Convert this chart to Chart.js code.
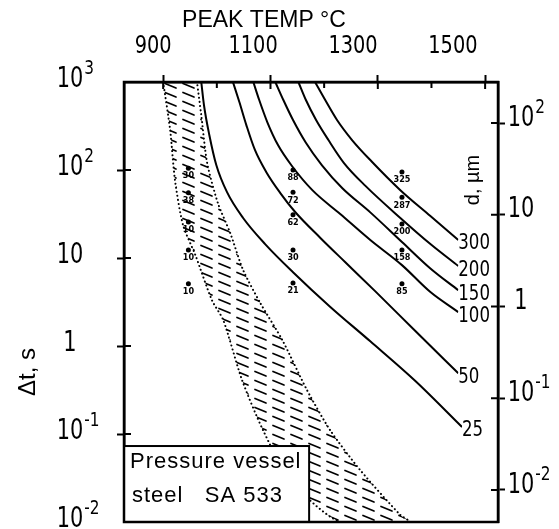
<!DOCTYPE html>
<html><head><meta charset="utf-8">
<script src="https://cdn.jsdelivr.net/npm/chart.js@4.4.1/dist/chart.umd.min.js"></script>
<style>html,body{margin:0;padding:0;background:#fff;overflow:hidden;}</style>
</head><body>
<canvas id="c" width="559" height="529"></canvas>
<script>
// ---- axis ticks ----
const tempTicks = [900, 1100, 1300, 1500];
const tempMinorTicks = [1000, 1200, 1400];
const timeTicks = [0.01, 0.1, 1, 10, 100, 1000];
const timeTickLabels = ['10^-2', '10^-1', '1', '10', '10^2', '10^3'];
const sizeTicks = [0.01, 0.1, 1, 10, 100];
const sizeTickLabels = ['10^-2', '10^-1', '1', '10', '10^2'];

// ---- constant grain-size curves (peak temp °C, hold time s) ----
const curveLabels = ['25', '50', '100', '150', '200', '300'];
const curve25Temp = [971, 976, 986, 999, 1019, 1049, 1090, 1142, 1211, 1286, 1370, 1457];
const curve25Time = [1000, 548, 250, 114, 56, 28.5, 14.4, 6.9, 2.8, 1.13, 0.40, 0.12];
const curve50Temp = [1030, 1042, 1055, 1071, 1092, 1118, 1146, 1193, 1239, 1295, 1370, 1450];
const curve50Time = [1000, 592, 324, 169, 95, 55, 33.3, 16.9, 9.0, 4.2, 1.48, 0.49];
const curve100Temp = [1068, 1079, 1094, 1114, 1140, 1178, 1230, 1286, 1345, 1398, 1450];
const curve100Time = [1000, 624, 351, 192, 111, 59, 31.6, 16, 8.3, 4.1, 2.43];
const curve150Temp = [1109, 1124, 1142, 1166, 1196, 1234, 1286, 1345, 1398, 1450];
const curve150Time = [1000, 624, 370, 204, 113, 62, 33, 15.2, 7.6, 4.3];
const curve200Temp = [1152, 1166, 1185, 1208, 1237, 1277, 1342, 1398, 1450];
const curve200Time = [1000, 624, 370, 219, 120, 66, 28.5, 14.4, 8.1];
const curve300Temp = [1183, 1202, 1224, 1252, 1289, 1342, 1398, 1450];
const curve300Time = [1000, 624, 370, 219, 124, 59, 30, 16];

// ---- hatched band boundaries ----
const bandLeftTemp = [900, 913, 922, 937, 960, 991, 1012, 1047, 1086, 1137, 1230];
const bandLeftTime = [1000, 285, 77, 23.7, 10.8, 3.3, 1.97, 0.41, 0.111, 0.030, 0.01];
const bandRightTemp = [963, 971, 982, 1002, 1025, 1049, 1081, 1122, 1168, 1211, 1267, 1342, 1360];
const bandRightTime = [1000, 422, 120, 42, 19.2, 7.3, 3.08, 1.17, 0.316, 0.111, 0.039, 0.012, 0.01];

// ---- measured samples ----
const sampleTemps = [947, 1142, 1345];
const samplesA_Time = [105, 55, 25.6, 12.3, 5.1];
const samplesA_Label = ['30', '38', '10', '10', '10'];
const samplesB_Time = [100, 56, 31, 12.3, 5.2];
const samplesB_Label = ['88', '72', '62', '30', '21'];
const samplesC_Time = [95, 49, 24.3, 12.3, 5.1];
const samplesC_Label = ['325', '287', '200', '158', '85'];

const legendLines = ['Pressure vessel', 'steel   SA 533'];
const legendBoxTemp = 1172;   // right edge of note box
const legendBoxTime = 0.073;  // top edge of note box

const NARROW = "'DejaVu Sans Condensed', 'Liberation Sans', sans-serif";
const SANS = "'Liberation Sans', Arial, sans-serif";

const pts = (xs, ys) => xs.map((v, i) => ({x: v, y: ys[i]}));

const canvas = document.getElementById('c');
const ctx0 = canvas.getContext('2d');
const tile = document.createElement('canvas');
tile.width = 18; tile.height = 9;
const tg = tile.getContext('2d');
tg.strokeStyle = '#000'; tg.lineWidth = 1.7; tg.lineCap = 'round';
tg.beginPath(); tg.moveTo(3, 2.5); tg.lineTo(14, 7); tg.stroke();
const hatch = ctx0.createPattern(tile, 'repeat');

const curves = [
  [curve25Temp, curve25Time], [curve50Temp, curve50Time], [curve100Temp, curve100Time],
  [curve150Temp, curve150Time], [curve200Temp, curve200Time], [curve300Temp, curve300Time]
];

const datasets = [];
datasets.push({
  label: 'band',
  data: pts(bandLeftTemp.concat(bandRightTemp.slice().reverse()),
            bandLeftTime.concat(bandRightTime.slice().reverse())),
  showLine: true, pointRadius: 0, borderColor: '#000', borderWidth: 2,
  borderDash: [0.1, 4], borderCapStyle: 'round', tension: 0.25,
  fill: 'shape', backgroundColor: hatch, order: 10
});
curves.forEach((c, i) => datasets.push({
  label: curveLabels[i], data: pts(c[0], c[1]), showLine: true, pointRadius: 0,
  borderColor: '#000', borderWidth: 2, cubicInterpolationMode: 'monotone', fill: false, order: 2
}));
const sampleSets = [[samplesA_Time, samplesA_Label], [samplesB_Time, samplesB_Label], [samplesC_Time, samplesC_Label]];
sampleSets.forEach((s, i) => datasets.push({
  label: 'samples' + i, data: s[0].map(t => ({x: sampleTemps[i], y: t})),
  showLine: false, pointRadius: 2.5, pointBackgroundColor: '#000', pointBorderWidth: 0, order: 1
}));

const zeroPad = s => { s.paddingTop = 0; s.paddingBottom = 0; s.paddingLeft = 0; s.paddingRight = 0; };

// narrow text helper (horizontal squeeze)
function narrowText(ctx, text, x, y, size, sq, align) {
  ctx.save();
  ctx.font = size + 'px ' + NARROW;
  ctx.textBaseline = 'middle';
  ctx.textAlign = 'left';
  const w = ctx.measureText(text).width * sq;
  const x0 = align === 'center' ? x - w / 2 : x;
  ctx.translate(x0, y); ctx.scale(sq, 1);
  ctx.fillText(text, 0, 0);
  ctx.restore();
  return w;
}
// power-of-ten label: body centred at x, exponent raised
function powLabel(ctx, label, x, y) {
  const [b, e] = label.split('^');
  ctx.font = '29px ' + NARROW;
  const wb = ctx.measureText(b).width * 0.8;
  narrowText(ctx, b, x - wb / 2, y, 29, 0.8, 'left');
  if (e) narrowText(ctx, e, x + wb / 2 + 1, y - 10, 20, 0.85, 'left');
}

const decor = {
  id: 'decor',
  afterDatasetsDraw(chart) {
    const {ctx, chartArea: a, scales} = chart;
    const xs = scales.x, ys = scales.y, ys2 = scales.y2;
    ctx.save();
    ctx.fillStyle = '#000';
    // note box
    const bx = xs.getPixelForValue(legendBoxTemp), by = ys.getPixelForValue(legendBoxTime);
    ctx.fillStyle = '#fff';
    ctx.fillRect(a.left, by, bx - a.left, a.bottom - by);
    ctx.strokeStyle = '#000'; ctx.lineWidth = 2;
    ctx.strokeRect(a.left, by, bx - a.left, a.bottom - by);
    ctx.fillStyle = '#000'; ctx.font = '22px ' + SANS; ctx.textAlign = 'left'; ctx.textBaseline = 'alphabetic';
    ctx.letterSpacing = '1px';
    ctx.fillText(legendLines[0], a.left + 6, by + 22);
    ctx.fillText(legendLines[1], a.left + 8, by + 56);
    ctx.letterSpacing = '0px';
    // curve labels
    for (let i = 0; i < curveLabels.length; i++) {
      const meta = chart.getDatasetMeta(i + 1);
      const p = meta.data[meta.data.length - 1];
      ctx.font = '21px ' + NARROW;
      const w = ctx.measureText(curveLabels[i]).width * 0.88;
      ctx.fillStyle = '#fff';
      ctx.fillRect(p.x, p.y - 4, w + 1, 15);
      ctx.fillStyle = '#000';
      narrowText(ctx, curveLabels[i], p.x, p.y + 4, 21, 0.88, 'left');
    }
    // sample labels
    ctx.font = 'bold 9px ' + NARROW; ctx.textAlign = 'center'; ctx.textBaseline = 'middle';
    sampleSets.forEach((s, i) => {
      const meta = chart.getDatasetMeta(1 + curveLabels.length + i);
      meta.data.forEach((p, j) => ctx.fillText(s[1][j], p.x, p.y + 8));
    });
    // inward tick marks
    ctx.strokeStyle = '#000'; ctx.lineWidth = 2;
    ctx.beginPath();
    tempTicks.forEach(v => { const x = xs.getPixelForValue(v); ctx.moveTo(x, a.top); ctx.lineTo(x, a.top + 7); });
    tempMinorTicks.forEach(v => { const x = xs.getPixelForValue(v); ctx.moveTo(x, a.top); ctx.lineTo(x, a.top + 6); });
    timeTicks.slice(1, -1).forEach(v => { const y = ys.getPixelForValue(v); ctx.moveTo(a.left, y); ctx.lineTo(a.left + 7, y); });
    sizeTicks.forEach(v => { const y = ys2.getPixelForValue(v); ctx.moveTo(a.right - 7, y); ctx.lineTo(a.right, y); });
    ctx.stroke();
    // frame
    ctx.lineWidth = 2.5;
    ctx.strokeRect(a.left, a.top, a.right - a.left, a.bottom - a.top);
    ctx.fillStyle = '#000';
    // tick labels (the printed figure's labels drift left of their ticks)
    tempTicks.forEach(v => {
      const x = xs.getPixelForValue(v) - 10 - (v - tempTicks[0]) * 0.037;
      narrowText(ctx, String(v), x, a.top - 36, 25, 0.86, 'center');
    });
    timeTicks.forEach((v, i) => powLabel(ctx, timeTickLabels[i], 70, ys.getPixelForValue(v) - 3));
    sizeTicks.forEach((v, i) => powLabel(ctx, sizeTickLabels[i], a.right + 23, ys2.getPixelForValue(v) - 5));
    // axis titles
    ctx.textAlign = 'center'; ctx.textBaseline = 'middle';
    ctx.font = '23px ' + SANS;
    ctx.fillText('PEAK TEMP °C', a.left + 140, a.top - 61);
    ctx.save(); ctx.translate(28, a.top + 290); ctx.rotate(-Math.PI / 2);
    ctx.font = '24px ' + SANS; ctx.fillText('Δt, s', 0, 0); ctx.restore();
    ctx.save(); ctx.translate(a.right - 25, a.top + 98); ctx.rotate(-Math.PI / 2);
    ctx.font = '20px ' + SANS; ctx.fillText('d, µm', 0, 0); ctx.restore();
    ctx.restore();
  }
};

new Chart(canvas, {
  type: 'scatter',
  data: {datasets},
  options: {
    responsive: false, animation: false, devicePixelRatio: 1,
    layout: {padding: {left: 54, right: 0, top: 0, bottom: 7}},
    plugins: {legend: {display: false}, tooltip: {enabled: false}},
    scales: {
      x: {
        type: 'linear', position: 'top', min: 827, max: 1524,
        afterBuildTicks: s => { s.ticks = tempTicks.map(v => ({value: v})); },
        afterFit: s => { s.height = 82; zeroPad(s); },
        ticks: {display: false, autoSkip: false},
        grid: {drawOnChartArea: false, tickLength: 7, tickWidth: 2, tickColor: '#000'},
        border: {color: '#000', width: 2.5},
        title: {display: false, text: 'PEAK TEMP °C'}
      },
      y: {
        type: 'logarithmic', position: 'left', min: 0.01, max: 1000,
        afterBuildTicks: s => { s.ticks = timeTicks.map(v => ({value: v})); },
        afterFit: s => { s.width = 70; zeroPad(s); },
        ticks: {display: false, autoSkip: false},
        grid: {drawOnChartArea: false, tickLength: 7, tickWidth: 2,
               tickColor: c => (c.tick && (c.tick.value === 1000 || c.tick.value === 0.01)) ? 'rgba(0,0,0,0)' : '#000'},
        border: {color: '#000', width: 2.5}
      },
      y2: {
        type: 'logarithmic', position: 'right', min: 0.004479, max: 279.9,
        afterBuildTicks: s => { s.ticks = sizeTicks.map(v => ({value: v})); },
        afterFit: s => { s.width = 61; zeroPad(s); },
        ticks: {display: false, autoSkip: false},
        grid: {drawOnChartArea: false, tickLength: 7, tickWidth: 2, tickColor: '#000'},
        border: {color: '#000', width: 2.5}
      }
    }
  },
  plugins: [decor]
});
</script>
</body></html>
